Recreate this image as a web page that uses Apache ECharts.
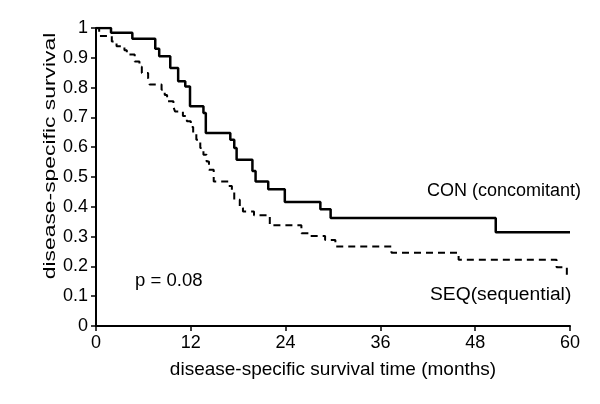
<!DOCTYPE html>
<html>
<head>
<meta charset="utf-8">
<script src="https://cdn.jsdelivr.net/npm/echarts@6/dist/echarts.min.js"></script>
<style>html,body{margin:0;padding:0;background:#fff}#c{width:600px;height:404px}</style>
</head>
<body>
<div id="c"></div>
<script>
// Kaplan-Meier step data: [month, survival]
const conData = [[0,1],[1.9,0.984],[4.6,0.964],[7.5,0.930],[8.0,0.905],[9.4,0.866],[10.4,0.821],[11.3,0.804],[11.9,0.737],[13.6,0.715],[13.9,0.648],[17.0,0.625],[17.5,0.597],[17.8,0.558],[19.8,0.520],[20.2,0.485],[21.8,0.459],[23.9,0.416],[28.4,0.392],[29.7,0.362],[50.6,0.315],[60,0.315]];
const seqData = [[0,1],[0.4,0.973],[2.0,0.955],[2.6,0.939],[3.6,0.925],[3.9,0.911],[4.9,0.888],[5.5,0.870],[5.8,0.849],[6.6,0.830],[6.8,0.810],[8.3,0.793],[8.7,0.775],[9.0,0.754],[9.8,0.735],[10.0,0.720],[11.0,0.705],[11.5,0.687],[12.0,0.668],[12.3,0.648],[12.7,0.625],[13.2,0.597],[13.6,0.575],[14.0,0.552],[14.3,0.524],[14.9,0.485],[16.8,0.470],[17.2,0.457],[17.5,0.424],[18.2,0.396],[18.6,0.384],[20.0,0.372],[22.0,0.338],[26.0,0.311],[26.9,0.302],[29.0,0.289],[30.3,0.267],[37.4,0.246],[45.9,0.222],[58.3,0.197],[59.6,0.171],[60,0.171]];
const xTicks = [0,12,24,36,48,60];
const labels = { con: 'CON (concomitant)', seq: 'SEQ(sequential)', p: 'p = 0.08' };
const xTitle = 'disease-specific survival time (months)';
const yTitle = 'disease-specific survival';

const font = 'Liberation Sans, Arial, sans-serif';
const chart = echarts.init(document.getElementById('c'), null, {renderer:'canvas'});
chart.setOption({
  backgroundColor: '#fff',
  animation: false,
  grid: {left: 96, right: 30, top: 28, bottom: 78},
  xAxis: {
    type: 'value', min: 0, max: 60, interval: 12,
    name: xTitle, nameLocation: 'middle', nameGap: 34,
    nameTextStyle: {fontSize: 19, color: '#000', fontFamily: font},
    axisLine: {show: true, lineStyle: {color: '#000', width: 2}},
    axisTick: {show: true, length: 5, lineStyle: {color: '#000', width: 1.5}},
    axisLabel: {fontSize: 18, color: '#000', fontFamily: font, margin: 8,
      formatter: v => xTicks.includes(v) ? String(v) : ''},
    splitLine: {show: false}
  },
  yAxis: {
    type: 'value', min: 0, max: 1, interval: 0.1,
    axisLine: {show: true, lineStyle: {color: '#000', width: 2}},
    axisTick: {show: true, length: 5, lineStyle: {color: '#000', width: 1.5}},
    axisLabel: {fontSize: 18, color: '#000', fontFamily: font, margin: 8},
    splitLine: {show: false}
  },
  series: [
    {type: 'line', name: 'CON', data: conData, step: 'end', showSymbol: false,
     lineStyle: {color: '#000', width: 2.5}},
    {type: 'line', name: 'SEQ', data: seqData, step: 'end', showSymbol: false,
     lineStyle: {color: '#000', width: 2, type: [7, 5]}}
  ],
  graphic: [
    {type: 'text', x: 50, y: 156, rotation: Math.PI / 2, scaleX: 1.27, scaleY: 0.92,
     style: {text: yTitle, fontSize: 18, fill: '#000', fontFamily: font, align: 'center', verticalAlign: 'middle'}},
    {type: 'text', x: 427, y: 191, style: {text: labels.con, fontSize: 18, fill: '#000', fontFamily: font, verticalAlign: 'middle'}},
    {type: 'text', x: 430, y: 295, scaleX: 1.07, style: {text: labels.seq, fontSize: 18, fill: '#000', fontFamily: font, verticalAlign: 'middle'}},
    {type: 'text', x: 135, y: 281, scaleX: 1.03, style: {text: labels.p, fontSize: 18, fill: '#000', fontFamily: font, verticalAlign: 'middle'}}
  ]
});
</script>
</body>
</html>
